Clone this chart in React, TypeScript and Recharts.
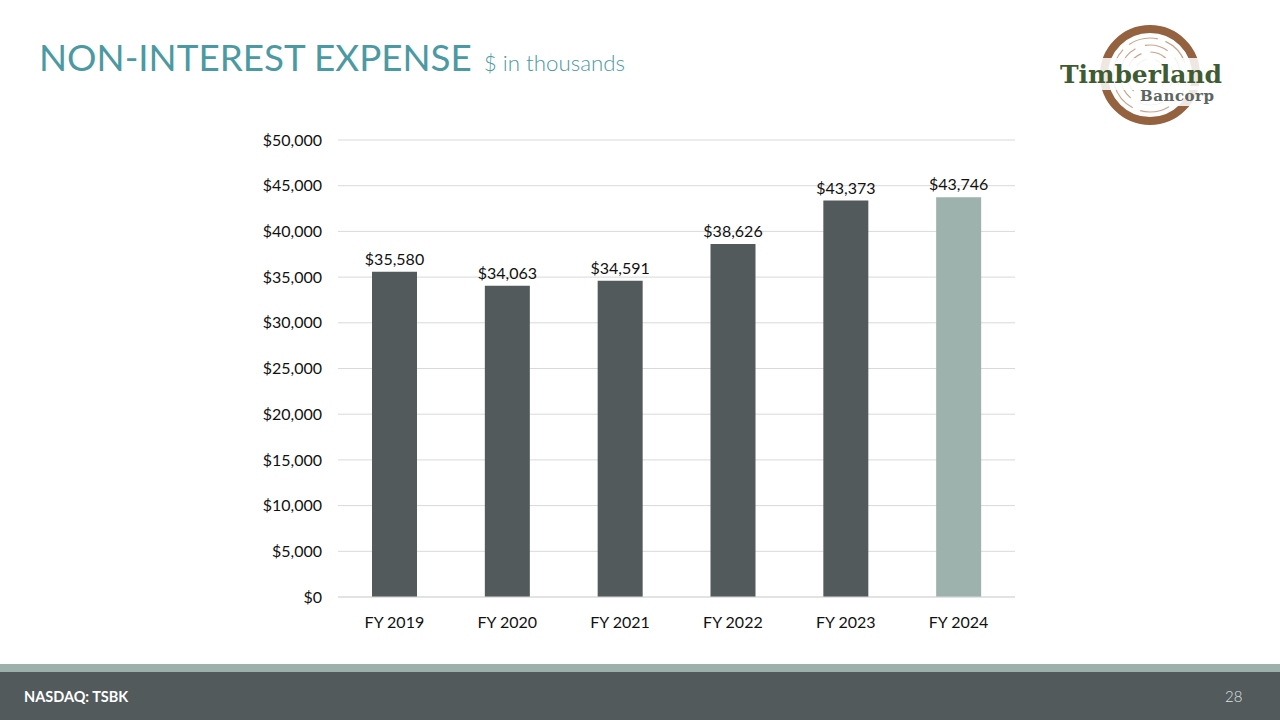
import React from "react";
import { BarChart, Bar, XAxis, YAxis, CartesianGrid, LabelList, Cell } from "recharts";

const categories = ["FY 2019", "FY 2020", "FY 2021", "FY 2022", "FY 2023", "FY 2024"];
const expenseValues = [35580, 34063, 34591, 38626, 43373, 43746];
const yTicks = [0, 5000, 10000, 15000, 20000, 25000, 30000, 35000, 40000, 45000, 50000];

const data = categories.map((c, i) => ({ name: c, value: expenseValues[i] }));

const fmt = (v: number) => "$" + v.toLocaleString("en-US");
const FONT = "Lato, 'Open Sans', sans-serif";

function Logo() {
  return (
    <svg width={200} height={110} style={{ position: "absolute", left: 1040, top: 20 }}>
      <circle cx={110} cy={55} r={46} fill="none" stroke="#94623f" strokeWidth={8} />
      <circle cx={110} cy={55} r={37} fill="none" stroke="#c9a58c" strokeWidth={1.2} strokeDasharray="30 8" />
      <circle cx={110} cy={55} r={30} fill="none" stroke="#c9a58c" strokeWidth={1.2} strokeDasharray="24 10" />
      <circle cx={110} cy={55} r={23} fill="none" stroke="#c9a58c" strokeWidth={1.2} strokeDasharray="18 9" />
      <circle cx={110} cy={55} r={16} fill="none" stroke="#c9a58c" strokeWidth={1.2} strokeDasharray="12 8" />
      <rect x={18} y={38} width={168} height={32} fill="white" opacity={0.85} />
      <rect x={96} y={66} width={82} height={20} fill="white" opacity={0.85} />
      <text x={20} y={63} fontFamily="'DejaVu Serif', 'Liberation Serif', serif" fontWeight="bold" fontSize={25} fill="#3f5b32" textLength={162}>Timberland</text>
      <text x={100} y={81} fontFamily="'DejaVu Serif', 'Liberation Serif', serif" fontWeight="bold" fontSize={15} fill="#5b6660" textLength={74}>Bancorp</text>
    </svg>
  );
}

export default function App() {
  return (
    <div style={{ position: "absolute", left: 0, top: 0, width: 1280, height: 720, background: "#fff", overflow: "hidden", fontFamily: FONT }}>
      <div style={{ position: "absolute", left: 39, top: 35, whiteSpace: "nowrap", color: "#4b9aa3" }}>
        <span style={{ fontSize: 36.8, fontWeight: 400, fontFamily: "Lato, sans-serif" }}>NON-INTEREST EXPENSE</span>
        <span style={{ fontSize: 22.3, fontWeight: 300, marginLeft: 12 }}>$ in thousands</span>
      </div>
      <Logo />
      <div style={{ position: "absolute", left: 0, top: 0 }}>
        <BarChart width={1280} height={660} data={data} margin={{ top: 140, right: 265, bottom: 33, left: 258 }}>
          <CartesianGrid vertical={false} stroke="#d9d9d9" />
          <XAxis dataKey="name" axisLine={{ stroke: "#d9d9d9" }} tickLine={false} tickMargin={14} height={30}
            tick={{ fontSize: 16, fill: "#111", fontFamily: FONT }} />
          <YAxis domain={[0, 50000]} ticks={yTicks} tickFormatter={fmt} axisLine={false} tickLine={false} tickSize={0} tickMargin={16} width={80}
            tick={{ fontSize: 16, fill: "#111", fontFamily: FONT }} />
          <Bar dataKey="value" barSize={45} isAnimationActive={false}>
            {data.map((d, i) => (
              <Cell key={d.name} fill={i === data.length - 1 ? "#9db2ad" : "#525a5c"} />
            ))}
            <LabelList dataKey="value" position="top" offset={7} formatter={(v: any) => fmt(Number(v))}
              style={{ fontSize: 16, fill: "#111", fontFamily: FONT }} />
          </Bar>
        </BarChart>
      </div>
      <div style={{ position: "absolute", left: 0, top: 664, width: 1280, height: 8, background: "#9db0ab" }} />
      <div style={{ position: "absolute", left: 0, top: 672, width: 1280, height: 48, background: "#525a5c" }} />
      <div style={{ position: "absolute", left: 24, top: 688, color: "#fff", fontSize: 14.5, fontWeight: 700 }}>NASDAQ: TSBK</div>
      <div style={{ position: "absolute", left: 1225, top: 687, color: "#dfe3e3", fontSize: 15, fontWeight: 300 }}>28</div>
    </div>
  );
}
